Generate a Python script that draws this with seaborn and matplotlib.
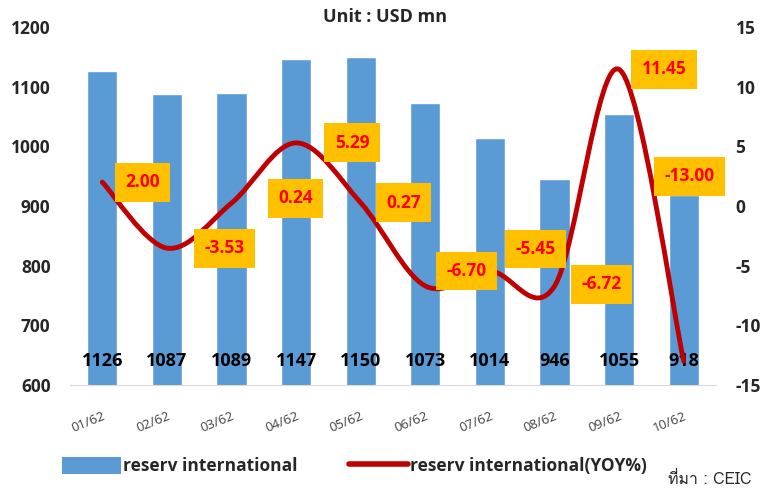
import numpy as np
import pandas as pd
import matplotlib
matplotlib.use("Agg")
import matplotlib.pyplot as plt
from matplotlib import font_manager
from matplotlib.ft2font import FT2Font
from matplotlib.path import Path
from matplotlib.patches import PathPatch, Patch
from matplotlib.lines import Line2D
import seaborn as sns

# data
months = ["01/62", "02/62", "03/62", "04/62", "05/62", "06/62", "07/62", "08/62", "09/62", "10/62"]
reserves = [1126, 1087, 1089, 1147, 1150, 1073, 1014, 946, 1055, 918]
yoy = [2.00, -3.53, 0.24, 5.29, 0.27, -6.70, -5.45, -6.72, 11.45, -13.00]

# label offsets (pixels) for the yoy boxes, as placed in the original
yoy_offsets = [(40, 0), (58, 0), (64, 5), (56, 0), (43, 0),
               (41, 15), (46, 22), (47, 2), (45, 0), (6, 185)]


def find_family(ch):
    # look for an installed font that has this character
    for f in font_manager.fontManager.ttflist:
        try:
            if ord(ch) in FT2Font(f.fname).get_charmap():
                return f.name
        except Exception:
            pass
    return "DejaVu Sans"


thai_family = find_family("ท")

sns.set_style("white")
plt.rcParams["font.family"] = ["Open Sans", "DejaVu Sans"]
plt.rcParams["axes.unicode_minus"] = False

df = pd.DataFrame({"Month": months, "Reserve": reserves, "YOY": yoy})

fig = plt.figure(figsize=(7.62, 4.90), dpi=100)
ax = fig.add_axes([70 / 762, 105 / 490, 646 / 762, 358 / 490])

bar_color = "#5B9BD5"
line_color = "#C00000"

sns.barplot(data=df, x="Month", y="Reserve", color=bar_color, width=0.47,
            saturation=1, ax=ax)
ax.set_ylim(600, 1200)
ax.set_xlim(-0.5, 9.5)
ax.set_xlabel("")
ax.set_ylabel("")
ax.set_yticks(range(600, 1201, 100))
ax.tick_params(axis="y", labelsize=12.5, length=0, pad=14)
for t in ax.get_yticklabels():
    t.set_fontweight("bold")

# x axis: ticks between categories
ax.set_xticks(range(len(months)))
ax.set_xticklabels(months, rotation=22, ha="right", rotation_mode="anchor",
                   fontsize=9.5, color="#404040")
ax.tick_params(axis="x", which="major", length=0, pad=18)
ax.set_xticks(np.arange(-0.5, len(months), 1), minor=True)
ax.tick_params(axis="x", which="minor", length=6, color="#D9D9D9", width=1)
for s in ["top", "right", "left"]:
    ax.spines[s].set_visible(False)
ax.spines["bottom"].set_color("#D9D9D9")

# bar value labels near the base
for i, v in enumerate(reserves):
    ax.text(i, 640, str(v), ha="center", va="center", fontsize=13,
            fontweight="bold", color="black")

# yoy on secondary axis, smoothed like Excel
ax2 = ax.twinx()
ax2.set_ylim(-15, 15)
ax2.set_yticks(range(-15, 16, 5))
ax2.tick_params(axis="y", labelsize=12.5, length=0, pad=14)
for t in ax2.get_yticklabels():
    t.set_fontweight("bold")
for s in ax2.spines.values():
    s.set_visible(False)

pts = np.column_stack([np.arange(len(yoy)), yoy])
verts = [pts[0]]
codes = [Path.MOVETO]
n = len(pts)
for i in range(n - 1):
    p0 = pts[max(i - 1, 0)]
    p1 = pts[i]
    p2 = pts[i + 1]
    p3 = pts[min(i + 2, n - 1)]
    c1 = p1 + (p2 - p0) / 6
    c2 = p2 - (p3 - p1) / 6
    verts += [c1, c2, p2]
    codes += [Path.CURVE4] * 3
ax2.add_patch(PathPatch(Path(verts, codes), facecolor="none",
                        edgecolor=line_color, lw=3.5, capstyle="round"))

for i, v in enumerate(yoy):
    dx, dy = yoy_offsets[i]
    ax2.annotate(f"{v:.2f}", xy=(i, v), xytext=(dx * 0.72, dy * 0.72),
                 textcoords="offset points", ha="center", va="center",
                 fontsize=12.5, fontweight="bold", color="#FF0000",
                 bbox=dict(boxstyle="square,pad=0.6", fc="#FFC000", ec="none"))

fig.text(385 / 762, 1 - 17 / 490, "Unit : USD mn", ha="center", va="center",
         fontsize=13, fontweight="bold")

handles = [Patch(facecolor=bar_color, edgecolor="none"),
           Line2D([0], [0], color=line_color, lw=4, solid_capstyle="round")]
fig.legend(handles, ["reserv international", "reserv international(YOY%)"],
           loc="center left", bbox_to_anchor=(62 / 762, 1 - 466 / 490), ncol=2,
           frameon=False, prop={"weight": "bold", "size": 12.5},
           borderpad=0, borderaxespad=0,
           handlelength=3.4, handleheight=1.1, handletextpad=0.1,
           columnspacing=3.0)

fig.text(752 / 762, 1 - 480 / 490, "ที่มา : CEIC", ha="right", va="center",
         fontsize=11.5, family=[thai_family, "DejaVu Sans"])

fig.savefig("out.png", dpi=100)
